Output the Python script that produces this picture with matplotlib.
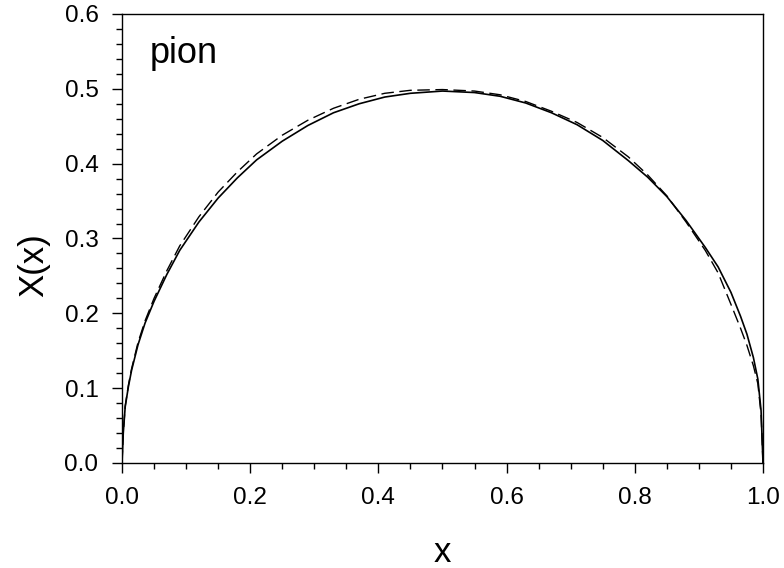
import matplotlib
matplotlib.use("Agg")
import matplotlib.pyplot as plt
from matplotlib.ticker import MultipleLocator

plt.rcParams['font.family'] = ['Liberation Sans', 'DejaVu Sans']

# Solid curve
solid_x = [0.0, 0.002, 0.005, 0.01, 0.015, 0.025, 0.036, 0.05, 0.07, 0.09,
           0.12, 0.15, 0.18, 0.21, 0.25, 0.29, 0.33, 0.37, 0.41, 0.45,
           0.50, 0.55, 0.59, 0.63, 0.67, 0.71, 0.75, 0.79, 0.82, 0.85,
           0.88, 0.91, 0.93, 0.95, 0.965, 0.975, 0.985, 0.992, 0.997, 1.0]
solid_y = [0.0, 0.040, 0.075, 0.102, 0.124, 0.158, 0.187, 0.216, 0.252, 0.284,
           0.322, 0.354, 0.381, 0.405, 0.430, 0.451, 0.468, 0.480, 0.489, 0.494,
           0.497, 0.495, 0.490, 0.481, 0.468, 0.452, 0.431, 0.404, 0.382, 0.356,
           0.324, 0.288, 0.262, 0.228, 0.196, 0.172, 0.141, 0.112, 0.070, 0.0]

# Dashed curve
dash_x = [0.0, 0.002, 0.005, 0.01, 0.015, 0.025, 0.036, 0.05, 0.07, 0.09,
          0.12, 0.15, 0.18, 0.21, 0.25, 0.29, 0.33, 0.37, 0.41, 0.45,
          0.50, 0.55, 0.59, 0.63, 0.67, 0.71, 0.75, 0.79, 0.82, 0.85,
          0.88, 0.91, 0.93, 0.95, 0.965, 0.975, 0.985, 0.992, 0.997, 1.0]
dash_y = [0.0, 0.040, 0.076, 0.104, 0.126, 0.161, 0.190, 0.220, 0.257, 0.290,
          0.329, 0.362, 0.389, 0.413, 0.438, 0.458, 0.474, 0.486, 0.494, 0.498,
          0.499, 0.497, 0.492, 0.483, 0.470, 0.455, 0.435, 0.409, 0.385, 0.357,
          0.322, 0.284, 0.254, 0.212, 0.180, 0.157, 0.130, 0.106, 0.065, 0.0]

fig = plt.figure(figsize=(7.84, 5.68), dpi=100)
ax = fig.add_axes([0.1556, 0.1849, 0.8176, 0.7905])

ax.plot(solid_x, solid_y, color='black', lw=1.2)
ax.plot(dash_x, dash_y, color='black', lw=1.0, dashes=(9, 4))

ax.set_xlim(0, 1.0)
ax.set_ylim(0, 0.6)
ax.xaxis.set_major_locator(MultipleLocator(0.2))
ax.xaxis.set_minor_locator(MultipleLocator(0.05))
ax.yaxis.set_major_locator(MultipleLocator(0.1))
ax.yaxis.set_minor_locator(MultipleLocator(0.02))
ax.xaxis.set_major_formatter(plt.FormatStrFormatter('%.1f'))
ax.yaxis.set_major_formatter(plt.FormatStrFormatter('%.1f'))
ax.tick_params(which='major', direction='out', length=7, width=1, labelsize=17.5,
               top=False, right=False)
ax.tick_params(axis='y', which='major', pad=10)
ax.tick_params(axis='x', which='major', pad=10)
ax.tick_params(which='minor', direction='out', length=4, width=1, top=False, right=False)
for s in ax.spines.values():
    s.set_linewidth(1.0)

ax.set_xlabel('x', fontsize=25, labelpad=20)
ax.set_ylabel('X(x)', fontsize=25, labelpad=10)
ax.yaxis.label.set_y(0.44)
ax.text(0.044, 0.535, 'pion', fontsize=26, va='baseline')

fig.savefig('out.png', dpi=100)
